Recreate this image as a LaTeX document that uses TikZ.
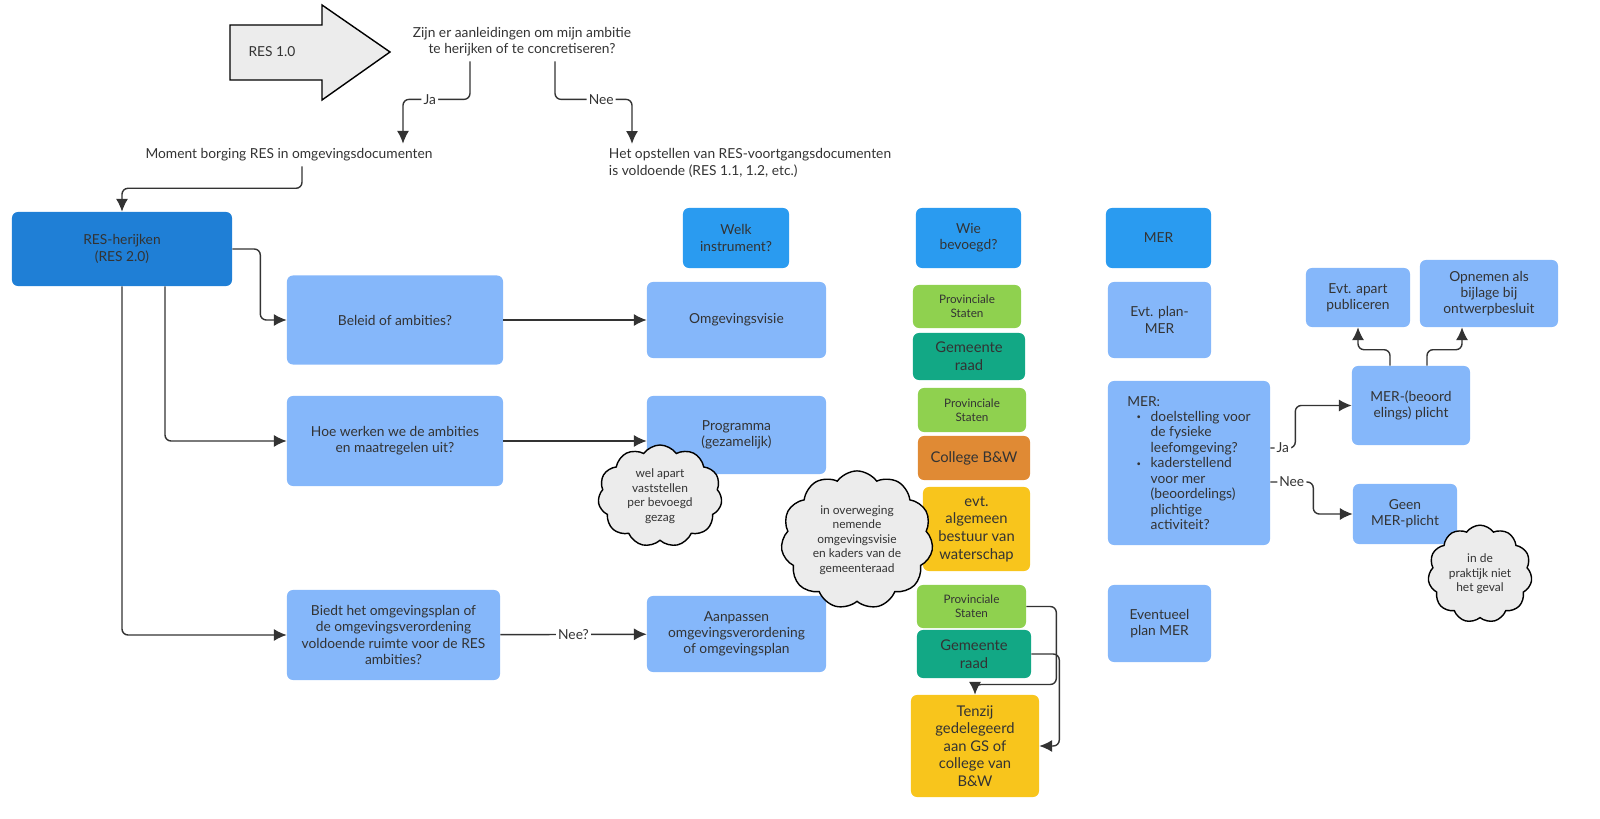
\documentclass[tikz,border=0pt]{standalone}
\usepackage{fontspec}
\setmainfont{Lato}
\usetikzlibrary{calc,positioning,shapes.symbols,arrows.meta}
\definecolor{darkblue}{HTML}{1F7FD6}
\definecolor{midblue}{HTML}{2A9BF0}
\definecolor{lightblue}{HTML}{85B7FA}
\definecolor{psgreen}{HTML}{8FD14F}
\definecolor{grteal}{HTML}{12A885}
\definecolor{bworange}{HTML}{E08A34}
\definecolor{wsyellow}{HTML}{F8C51C}
\definecolor{ink}{HTML}{333333}
\newcommand{\bul}{\makebox[1.7em][r]{\raisebox{0.25ex}{\scalebox{0.55}{\textbullet}}\hspace{0.7em}}}
\newcommand{\ind}{\hspace*{1.7em}}

\begin{document}
\begin{tikzpicture}[
    x=0.025cm, y=-0.025cm,
    every node/.style={font=\fontsize{9.8}{11.5}\selectfont, text=ink},
    box/.style={rectangle, rounded corners=0.15cm, align=center, inner sep=2pt},
    lb/.style={box, fill=lightblue},
    db/.style={box, fill=darkblue},
    mb/.style={box, fill=midblue},
    ps/.style={box, fill=psgreen, font=\fontsize{8.3}{10}\selectfont},
    gr/.style={box, fill=grteal, font=\fontsize{10.5}{12.5}\selectfont},
    bw/.style={box, fill=bworange, font=\fontsize{10.5}{12.5}\selectfont},
    ws/.style={box, fill=wsyellow, font=\fontsize{10.5}{12.5}\selectfont},
    note/.style={cloud, cloud puffs=11, cloud puff arc=110, draw=black, line width=1pt, fill=gray!15, align=center, inner sep=0pt, font=\fontsize{8.5}{10.3}\selectfont},
    arr/.style={-{Latex[length=3.2mm,width=3mm]}, draw=ink, line width=1pt, rounded corners=0.15cm},
    lab/.style={fill=white, inner sep=1.5pt}
]
    \useasboundingbox (0,0) rectangle (1600,819);

    % start arrow and question
    \draw[fill=gray!15, line width=1pt] (230,25) -- (322,25) -- (322,5) -- (390,52) -- (322,100) -- (322,80) -- (230,80) -- cycle;
    \node (res) at (272,52) {RES 1.0};
    \node[align=center] (q) at (522,42) {Zijn er aanleidingen om mijn ambitie\\te herijken of te concretiseren?};
    \node (moment) at (289,155) {Moment borging RES in omgevingsdocumenten};
    \node[anchor=west, align=left] (voortg) at (604,163) {Het opstellen van RES-voortgangsdocumenten\\is voldoende (RES 1.1, 1.2, etc.)};

    % left column
    \node[db, minimum width=5.5cm, minimum height=1.85cm] (herijken) at (122,249) {RES-herijken\\(RES 2.0)};
    \node[lb, minimum width=5.4cm, minimum height=2.225cm] (beleid) at (395,320) {Beleid of ambities?};
    \node[lb, minimum width=5.4cm, minimum height=2.25cm] (hoe) at (395,441) {Hoe werken we de ambities\\en maatregelen uit?};
    \node[lb, minimum width=5.325cm, minimum height=2.25cm] (biedt) at (393.5,635) {Biedt het omgevingsplan of\\de omgevingsverordening\\voldoende ruimte voor de RES\\ambities?};

    % instrument column
    \node[mb, minimum width=2.65cm, minimum height=1.5cm] (welk) at (736,238) {Welk\\instrument?};
    \node[lb, minimum width=4.475cm, minimum height=1.9cm] (visie) at (736.5,320) {Omgevingsvisie};
    \node[lb, minimum width=4.475cm, minimum height=1.95cm] (progr) at (736.5,435) {Programma\\(gezamelijk)};
    \node[lb, minimum width=4.475cm, minimum height=1.9cm] (aanp) at (736.5,634) {Aanpassen\\omgevingsverordening\\of omgevingsplan};

    % bevoegd column
    \node[mb, minimum width=2.625cm, minimum height=1.5cm] (wie) at (968.5,238) {Wie\\bevoegd?};
    \node[ps, minimum width=2.7cm, minimum height=1.075cm] (ps1) at (967,306.5) {Provinciale\\Staten};
    \node[gr, minimum width=2.8cm, minimum height=1.175cm] (gr1) at (969,356.5) {Gemeente\\raad};
    \node[ps, minimum width=2.7cm, minimum height=1.1cm] (ps2) at (972,410) {Provinciale\\Staten};
    \node[bw, minimum width=2.8cm, minimum height=1.1cm] (bw) at (974,458) {College B\&W};
    \node[ws, minimum width=2.675cm, minimum height=2.1cm] (ws) at (976.5,529) {evt.\\algemeen\\bestuur van\\waterschap};
    \node[ps, minimum width=2.725cm, minimum height=1.075cm] (ps3) at (971.5,606.5) {Provinciale\\Staten};
    \node[gr, minimum width=2.85cm, minimum height=1.2cm] (gr2) at (974,654) {Gemeente\\raad};
    \node[ws, minimum width=3.2cm, minimum height=2.55cm] (tenzij) at (975,746) {Tenzij\\gedelegeerd\\aan GS of\\college van\\B\&W};

    % MER column
    \node[mb, minimum width=2.625cm, minimum height=1.5cm] (mer) at (1158.5,238) {MER};
    \node[lb, minimum width=2.575cm, minimum height=1.9cm] (planmer) at (1159.5,320) {Evt. plan-\\MER};
    \node[lb, minimum width=4.05cm, minimum height=4.1cm, align=left, font=\fontsize{9.8}{11}\selectfont] (merq) at (1189,463) {MER:\\\bul doelstelling voor\\\ind de fysieke\\\ind leefomgeving?\\\bul kaderstellend\\\ind voor mer\\\ind (beoordelings)\\\ind plichtige\\\ind activiteit?};
    \node[lb, minimum width=2.575cm, minimum height=1.925cm] (evtplan) at (1159.5,623.5) {Eventueel\\plan MER};
    \node[lb, minimum width=2.95cm, minimum height=1.975cm] (plicht) at (1411,405.5) {MER-(beoord\\elings) plicht};
    \node[lb, minimum width=2.6cm, minimum height=1.475cm] (publ) at (1358,297.5) {Evt. apart\\publiceren};
    \node[lb, minimum width=3.45cm, minimum height=1.675cm] (opnemen) at (1489,293.5) {Opnemen als\\bijlage bij\\ontwerpbesluit};
    \node[lb, minimum width=2.6cm, minimum height=1.5cm] (geen) at (1405,514) {Geen\\MER-plicht};

    % clouds
    \node[note, minimum width=3.1cm, minimum height=1.8cm] (c1) at (660,496) {wel apart\\vaststellen\\per bevoegd\\gezag};
    \node[note, minimum width=3.8cm, minimum height=2.5cm] (c2) at (857,540) {in overweging\\nemende\\omgevingsvisie\\en kaders van de\\gemeenteraad};
    \node[note, minimum width=2.6cm, minimum height=1.8cm] (c3) at (1480,574) {in de\\praktijk niet\\het geval};

    % connectors
    \draw[arr] ($(q.south)+(-52,0)$) -- ++(0,38) -| node[lab, pos=0.3]{Ja} ($(moment.north)+(114,0)$);
    \draw[arr] ($(q.south)+(33,0)$) -- ++(0,38) -| node[lab, pos=0.3]{Nee} ($(voortg.north west)+(28,0)$);
    \draw[arr] ($(moment.south)+(13,0)$) -- ++(0,22) -| (herijken.north);
    \draw[arr] (herijken.east) -- ++(28,0) |- (beleid.west);
    \draw[arr] ($(herijken.south)+(43,0)$) |- (hoe.west);
    \draw[arr] (herijken.south) |- (biedt.west);
    \draw[arr] (beleid) -- (visie);
    \draw[arr] (hoe.east) -- (hoe.east -| progr.west);
    \draw[arr] (biedt) -- node[lab]{Nee?} (aanp);
    \draw[arr] (ps3.east) -- ++(30,0) -- ++(0,78) -| (tenzij.north);
    \draw[arr] (gr2.east) -- ++(28,0) |- (tenzij.east);
    \draw[arr] ($(merq.east)+(0,-15)$) -- node[lab]{Ja} ++(25,0) |- (plicht.west);
    \draw[arr] ($(merq.east)+(0,19)$) -- node[lab]{Nee} ++(43,0) |- (geen.west);
    \draw[arr] ($(plicht.north)+(-21,0)$) -- ++(0,-16) -| (publ.south);
    \draw[arr] ($(plicht.north)+(16,0)$) -- ++(0,-16) -| ($(opnemen.south)+(-27,0)$);
\end{tikzpicture}
\end{document}
